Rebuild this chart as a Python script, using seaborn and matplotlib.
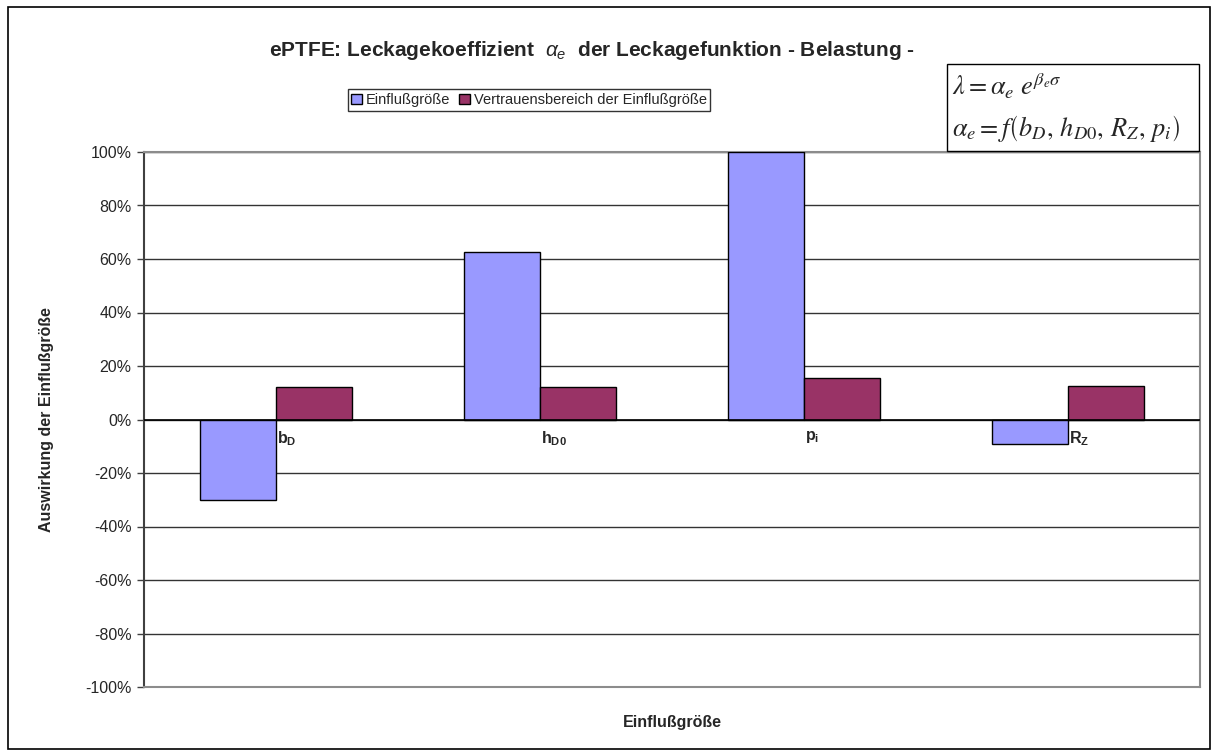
import numpy as np
import pandas as pd
import seaborn as sns
import matplotlib.pyplot as plt
from matplotlib.patches import Rectangle
from matplotlib.ticker import PercentFormatter

# data
categories = ["bD", "hD0", "pi", "RZ"]
category_labels = [r"$\mathbf{b_D}$", r"$\mathbf{h_{D0}}$", r"$\mathbf{p_i}$", r"$\mathbf{R_Z}$"]
einfluss = [-30.0, 62.5, 100.0, -9.3]
vertrauen = [12.3, 12.2, 15.6, 12.7]
series_names = ["Einflußgröße", "Vertrauensbereich der Einflußgröße"]
y_ticks = list(range(-100, 101, 20))

sns.set_style("white")
plt.rcParams['font.family'] = ['Liberation Sans', 'DejaVu Sans']
plt.rcParams['axes.unicode_minus'] = False
plt.rcParams['mathtext.fontset'] = 'custom'
plt.rcParams['mathtext.rm'] = 'Liberation Sans'
plt.rcParams['mathtext.bf'] = 'Liberation Sans:bold'
plt.rcParams['mathtext.it'] = 'Liberation Sans:italic'

df = pd.DataFrame({
    "cat": categories * 2,
    "value": einfluss + vertrauen,
    "series": [series_names[0]] * 4 + [series_names[1]] * 4,
})

W, H = 1216, 756
fig = plt.figure(figsize=(W / 100, H / 100), dpi=100)
ax = fig.add_axes([144 / W, 1 - 687 / H, (1200 - 144) / W, (687 - 152) / H])

sns.barplot(data=df, x="cat", y="value", hue="series", order=categories,
            palette=["#9999FF", "#993366"], width=0.576, edgecolor="black",
            linewidth=1, saturation=1, ax=ax, legend=False, zorder=3)

ax.set_ylim(-100, 100)
ax.set_xlim(-0.5, 3.5)
ax.set_yticks(y_ticks)
ax.yaxis.set_major_formatter(PercentFormatter(decimals=0))
ax.tick_params(axis="y", length=5, width=1, color="#404040", labelsize=11.5, pad=4, left=True)
ax.set_xticks([])
ax.set_xlabel("")
ax.set_ylabel("")
for y in y_ticks:
    ax.axhline(y, color="#333333", lw=1, zorder=1)
ax.axhline(0, color="black", lw=1.2, zorder=4)
for side in ["right", "bottom", "top"]:
    ax.spines[side].set_color("#8c8c8c")
    ax.spines[side].set_linewidth(1.5)
ax.spines["left"].set_color("#404040")
ax.spines["left"].set_linewidth(1.5)

# category labels next to the zero line
for i, lab in enumerate(category_labels):
    ax.text(i + 0.005, -3.5, lab, ha="left", va="top", fontsize=11.5, fontweight="bold")

# legend
handles = [Rectangle((0, 0), 1, 1, facecolor=c, edgecolor="black", lw=1) for c in ["#9999FF", "#993366"]]
leg = fig.legend(handles, series_names, loc="center", bbox_to_anchor=(529 / W, 1 - 100 / H),
                 ncol=2, frameon=True, fancybox=False, edgecolor="black", fontsize=10.5,
                 handlelength=0.75, handleheight=0.75, handletextpad=0.25, columnspacing=0.6,
                 borderpad=0.25, borderaxespad=0)
leg.get_frame().set_linewidth(1)

# title
fig.text(592 / W, 1 - 50 / H, r"ePTFE: Leckagekoeffizient  $\alpha_e$  der Leckagefunktion - Belastung -",
         ha="center", va="center", fontsize=15, fontweight="bold")

# formula box
fig.patches.append(Rectangle((947 / W, 1 - 151 / H), (1199 - 947) / W, (151 - 64) / H,
                             transform=fig.transFigure, fill=False, edgecolor="black", lw=1))
fig.text(952 / W, 1 - 86 / H, r"$\lambda = \alpha_e\ e^{\beta_e \sigma}$", ha="left", va="center",
         fontsize=19, math_fontfamily="stix")
fig.text(952 / W, 1 - 128 / H, r"$\alpha_e = f\left(b_D,\, h_{D0},\, R_Z,\, p_i\right)$", ha="left",
         va="center", fontsize=19, math_fontfamily="stix")

# axis titles
fig.text(672 / W, 1 - 723 / H, "Einflußgröße", ha="center", va="center", fontsize=11.5, fontweight="bold")
fig.text(47 / W, 1 - 420 / H, "Auswirkung der Einflußgröße", ha="center", va="center",
         rotation=90, fontsize=11.5, fontweight="bold")

# outer chart frame
fig.patches.append(Rectangle((8 / W, 1 - 749 / H), (1210 - 8) / W, (749 - 7) / H,
                             transform=fig.transFigure, fill=False, edgecolor="black", lw=1.2))

fig.savefig("out.png", dpi=100)
